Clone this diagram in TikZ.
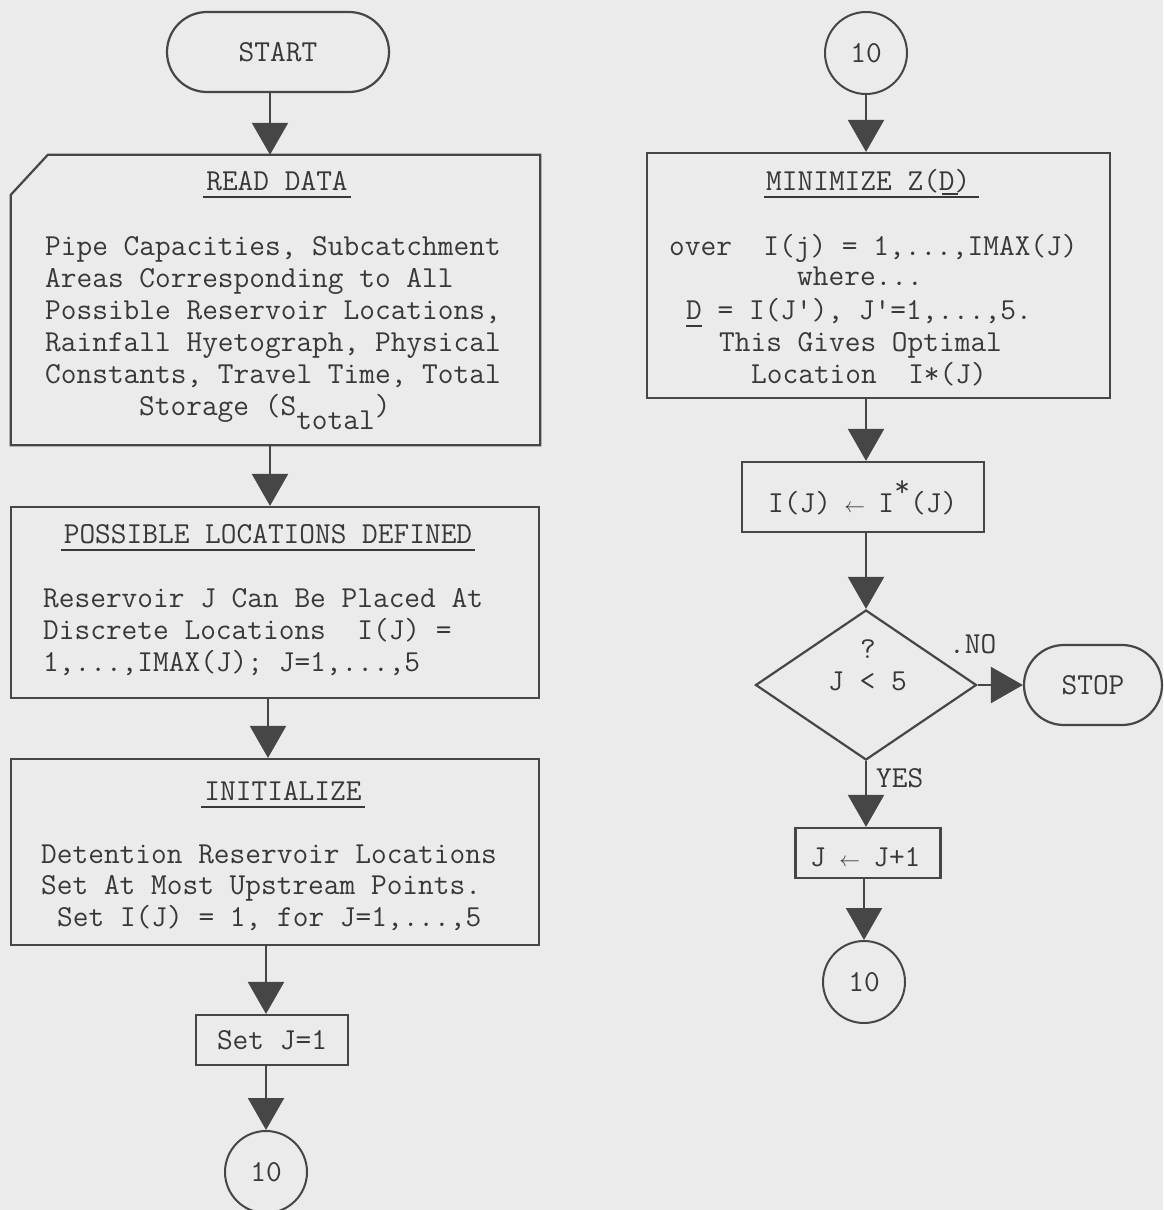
\documentclass[tikz,border=0pt]{standalone}
\usepackage{fontspec}
\usetikzlibrary{arrows.meta,shapes.geometric,calc}

\definecolor{ink}{HTML}{383838}
\definecolor{edge}{HTML}{464646}
\definecolor{paper}{HTML}{EBEBEB}

% a typewriter cell holding a small left arrow
\newcommand\tlarr{\makebox[16pt]{\fontsize{22}{22}\selectfont$\leftarrow$}}

\begin{document}
\begin{tikzpicture}[x=1pt,y=-1pt,
  tw/.style={font=\ttfamily\fontsize{30.5}{32}\selectfont, text=ink, inner sep=0pt},
  box/.style={draw=edge, line width=2.2pt, inner sep=0pt},
  term/.style={box, tw, draw=edge, rounded corners=40pt, minimum height=80pt},
  conn/.style={circle, draw=edge, line width=2pt, minimum size=82pt, inner sep=0pt, tw},
  flow/.style={draw=edge, line width=2.2pt, -{Triangle[width=36pt,length=32pt]}, color=edge},
  uline/.style={draw=ink, line width=1.8pt},
]
% page
\fill[paper] (0,0) rectangle (1163,1210);
\useasboundingbox (0,0) rectangle (1163,1210);

% ---------------- left column ----------------
\node[term, minimum width=222pt] (start) at (278,52) {START};

% input box with a cut corner
\node[inner sep=0pt, minimum width=529pt, minimum height=290pt] (rd) at (275.5,300) {};
\draw[edge, line width=2.2pt] ([xshift=37pt]rd.north west) -- (rd.north east) -- (rd.south east)
  -- (rd.south west) -- ([yshift=-40pt]rd.north west) -- cycle;
\node[tw, anchor=base] (rdt) at (277,190) {READ DATA};
\draw[uline] ([xshift=-3pt,yshift=-7pt]rdt.base west) -- ([xshift=3pt,yshift=-7pt]rdt.base east);
\node[tw, anchor=base west] (rd1) at (45,255) {Pipe Capacities, Subcatchment};
\node[tw, anchor=base west] (rd2) at (45,287) {Areas Corresponding to All};
\node[tw, anchor=base west] (rd3) at (45,319) {Possible Reservoir Locations,};
\node[tw, anchor=base west] (rd4) at (45,351) {Rainfall Hyetograph, Physical};
\node[tw, anchor=base west] (rd5) at (45,383) {Constants, Travel Time, Total};
\node[tw, anchor=base west] (rd6) at (139,415) {Storage (S\smash{\raisebox{-14pt}{total}})};

\node[box, minimum width=528pt, minimum height=191pt] (poss) at (275,602.5) {};
\node[tw, anchor=base] (posst) at (268,543) {POSSIBLE LOCATIONS DEFINED};
\draw[uline] ([xshift=-3pt,yshift=-7pt]posst.base west) -- ([xshift=3pt,yshift=-7pt]posst.base east);
\node[tw, anchor=base west] (p1) at (43,607) {Reservoir J Can Be Placed At};
\node[tw, anchor=base west] (p2) at (43,639) {Discrete Locations\ \ I(J) =};
\node[tw, anchor=base west] (p3) at (43,671) {1,...,IMAX(J); J=1,...,5};

\node[box, minimum width=528pt, minimum height=186pt] (init) at (275,852) {};
\node[tw, anchor=base] (initt) at (283,800) {INITIALIZE};
\draw[uline] ([xshift=-3pt,yshift=-7pt]initt.base west) -- ([xshift=3pt,yshift=-7pt]initt.base east);
\node[tw, anchor=base west] (i1) at (41,863) {Detention Reservoir Locations};
\node[tw, anchor=base west] (i2) at (41,894) {Set At Most Upstream Points.};
\node[tw, anchor=base west] (i3) at (57,926) {Set I(J) = 1, for J=1,...,5};

\node[box, tw, draw=edge, minimum width=152pt, minimum height=50pt] (setj) at (272,1040) {Set J=1};
\node[conn] (c1) at (266,1172) {10};

\draw[flow] ([xshift=-8pt]start.south) -- ([xshift=-8pt]start.south |- rd.north);
\draw[flow] ([xshift=-5.5pt]rd.south) -- ([xshift=-5.5pt]rd.south |- poss.north);
\draw[flow] ([xshift=-7pt]poss.south) -- ([xshift=-7pt]poss.south |- init.north);
\draw[flow] (c1.north |- init.south) -- (c1.north |- setj.north);
\draw[flow] (c1.north |- setj.south) -- (c1.north);

% ---------------- right column ----------------
\node[conn] (c2) at (866,53) {10};

\node[box, minimum width=463pt, minimum height=245pt] (mn) at (878.5,275.5) {};
\node[tw, anchor=base west] (mnt) at (766,190) {MINIMIZE Z(D)};
\draw[uline] ([xshift=-2pt,yshift=-7pt]mnt.base west) -- ([xshift=8pt,yshift=-7pt]mnt.base east);
\draw[uline] ([xshift=176pt,yshift=-4pt]mnt.base west) -- ([xshift=192pt,yshift=-4pt]mnt.base west);
\node[tw, anchor=base west] (m1) at (669,255) {over\ \ I(j) = 1,...,IMAX(J)};
\node[tw, anchor=base west] (m2) at (797,285) {where...};
\node[tw, anchor=base west] (m3) at (686,319) {D = I(J'), J'=1,...,5.};
\draw[uline] ([yshift=-7pt]m3.base west) -- ([xshift=16pt,yshift=-7pt]m3.base west);
\node[tw, anchor=base west] (m4) at (719,351) {This Gives Optimal};
\node[tw, anchor=base west] (m5) at (751,383) {Location\ \ I*(J)};

\node[box, minimum width=242pt, minimum height=70pt] (ij) at (863,497) {};
\node[tw, anchor=base west] (ijt) at (768,512)
  {I(J) \tlarr{} I\makebox[16pt]{\smash{\raisebox{16pt}{*}}}(J)};

\node[diamond, draw=edge, line width=2.2pt, minimum width=221pt, minimum height=150pt, inner sep=0pt]
  (dia) at (866,685) {};
\node[tw, anchor=base] (q) at (868,658) {?};
\node[tw, anchor=base west] (cond) at (828,690) {J < 5};

\node[term, minimum width=138pt] (stop) at (1093,685) {STOP};
\node[tw, anchor=base west] (no) at (949,653) {.NO};
\node[tw, anchor=base west] (yes) at (876,787) {YES};

\node[box, minimum width=145pt, minimum height=50pt] (jj) at (868,853) {};
\node[tw, anchor=base west] (jjt) at (810,866) {J \tlarr{} J+1};
\node[conn] (c3) at (864,982) {10};

\draw[flow] (c2.south) -- (c2.south |- mn.north);
\draw[flow] (c2.south |- mn.south) -- (c2.south |- ij.north);
\draw[flow] (c2.south |- ij.south) -- (dia.north);
\draw[flow] (dia.east) -- (stop.west);
\draw[flow] (dia.south) -- (dia.south |- jj.north);
\draw[flow] (c3.north |- jj.south) -- (c3.north);
\end{tikzpicture}
\end{document}
